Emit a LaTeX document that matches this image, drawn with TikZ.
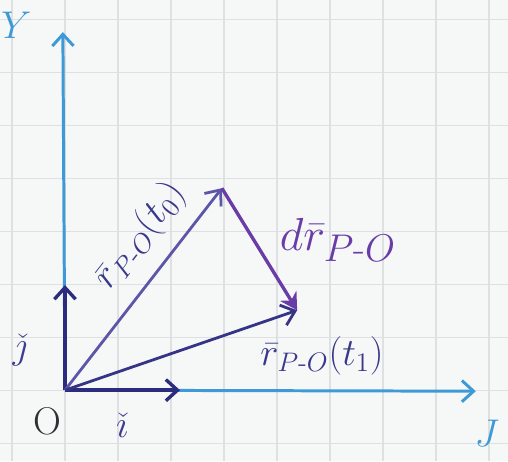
\documentclass[tikz,border=0pt]{standalone}
\usepackage{amsmath,amssymb}
\usepackage{tikz}
\usetikzlibrary{positioning,arrows.meta,calc}
\usepackage{xcolor}
\definecolor{paper}{HTML}{F6F7F7}
\definecolor{gridline}{HTML}{DEE0E1}
\definecolor{axisblue}{HTML}{3E9AD6}
\definecolor{navy}{HTML}{2B2C7E}
\definecolor{violet}{HTML}{5B56A8}
\definecolor{plum}{HTML}{6A3CA8}
\definecolor{pencil}{HTML}{2F3033}

\begin{document}
\begin{tikzpicture}[x=1cm,y=0.972cm,
    axis/.style={axisblue, line width=1.6pt, -{Straight Barb[length=2.2mm,width=4mm]}},
    unitvec/.style={navy, line width=1.8pt, -{Straight Barb[length=2.2mm,width=4mm]}},
    posvec/.style={line width=1.5pt, -{Straight Barb[length=2.4mm,width=4mm]}}]
  % paper and squares
  \fill[paper] (-1.226,-1.379) rectangle (8.358,7.573);
  \useasboundingbox (-1.226,-1.379) rectangle (8.358,7.573);
  \draw[gridline, line width=0.6pt] (-1.226,-1.379) grid (8.358,7.573);

  % points
  \coordinate (O) at (0,0);
  \coordinate (Ytip) at (-0.04,6.95);
  \coordinate (Xtip) at (7.75,-0.02);
  \coordinate (itip) at (2.17,0);
  \coordinate (jtip) at (0,2.04);
  \coordinate (P0) at (2.96,3.92);
  \coordinate (P1) at (4.38,1.55);

  % axes
  \draw[axis] (O) -- (Ytip);
  \draw[axis] (O) -- (Xtip);

  % unit vectors
  \draw[unitvec] (O) -- (itip);
  \draw[unitvec] (O) -- (jtip);

  % position vectors
  \draw[posvec, violet] (O) -- (P0);
  \draw[posvec, navy!80!violet] (O) -- (P1);
  \draw[plum, line width=1.8pt, -{Stealth[length=3.2mm,width=3.6mm]}] (P0) -- (P1);

  % labels
  \node[font=\huge, axisblue] (ylab) at (-0.92,7.08) {$Y$};
  \node[font=\huge, axisblue] (xlab) at (7.96,-0.84) {$J$};
  \node[font=\huge, pencil] (olab) at (-0.33,-0.6) {O};
  \node[font=\huge, navy!60!violet] (ilab) at (1.08,-0.68) {$\check{\imath}$};
  \node[font=\huge, navy!60!violet] (jlab) at (-0.85,0.78) {$\check{\jmath}$};
  \node[font=\huge, navy!70!violet, rotate=52] (r0lab) at (1.42,3.0) {$\bar{r}_{P\text{-}O}(t_0)$};
  \node[font=\Huge, plum] (drlab) at (5.15,2.92) {$d\bar{r}_{P\text{-}O}$};
  \node[font=\huge, navy!70!violet] (r1lab) at (4.85,0.66) {$\bar{r}_{P\text{-}O}(t_1)$};
\end{tikzpicture}
\end{document}
